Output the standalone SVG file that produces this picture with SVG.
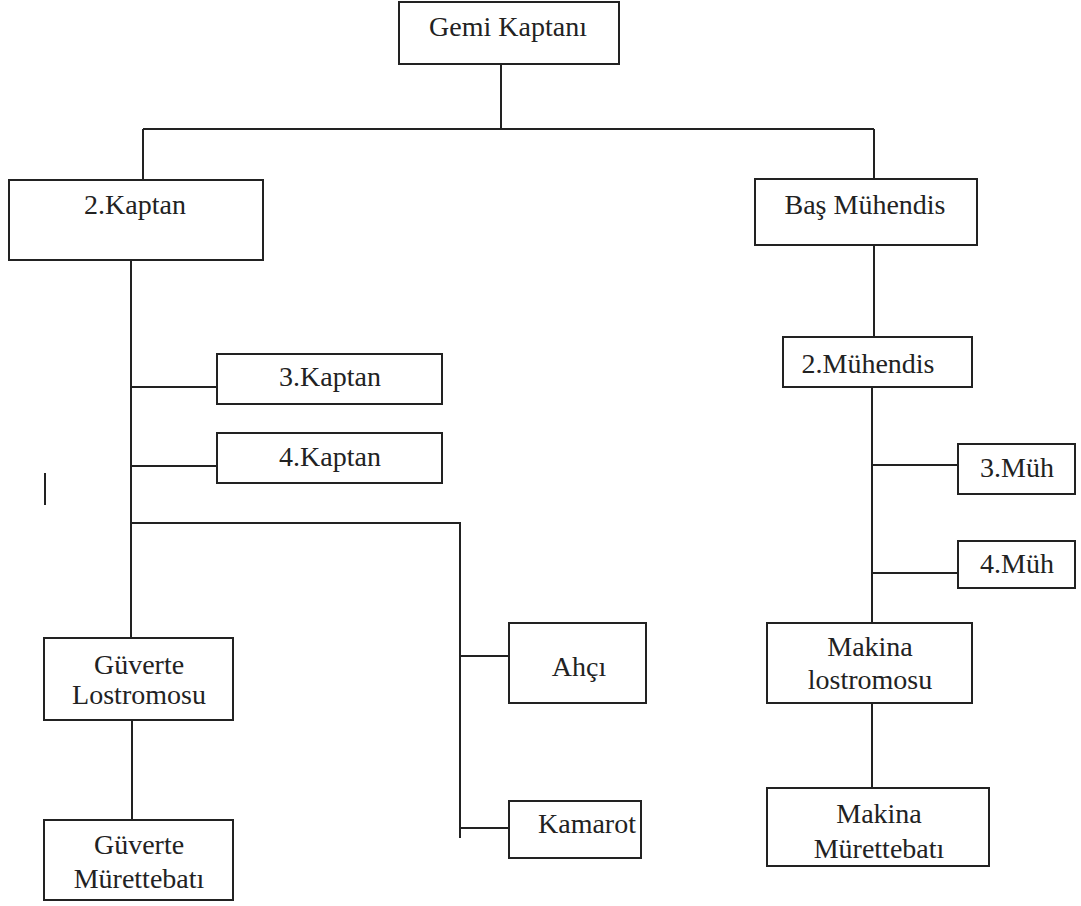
<svg xmlns="http://www.w3.org/2000/svg" width="1081" height="906" viewBox="0 0 1081 906">
<style>
.box{fill:#fff;stroke:#222;stroke-width:2}
.ln{fill:none;stroke:#222;stroke-width:2}
text{font-family:"Liberation Serif","Times New Roman",serif;font-size:28px;fill:#222;text-anchor:middle}
</style>
<rect width="1081" height="906" fill="#fff"/>
<g id="connectors">
<path class="ln" d="M501 64V129M143 129H874M143 129V180M874 129V179"/>
<path class="ln" d="M131 260V638M131 387H217M131 466H217M131 523H460V838M460 656H509M460 828H509"/>
<path class="ln" d="M132 720V820"/>
<path class="ln" d="M874 245V337M872 387V623M872 465H958M872 573H958M872 703V788"/>
<path class="ln" d="M45 473V505"/>
</g>
<g id="gemi-kaptani"><rect class="box" x="399" y="2" width="220" height="62"/><text x="508" y="36">Gemi Kaptanı</text></g>
<g id="kaptan2"><rect class="box" x="9" y="180" width="254" height="80"/><text x="135" y="214">2.Kaptan</text></g>
<g id="bas-muhendis"><rect class="box" x="755" y="179" width="222" height="66"/><text x="865" y="214">Baş Mühendis</text></g>
<g id="muhendis2"><rect class="box" x="783" y="337" width="189" height="50"/><text x="868" y="373">2.Mühendis</text></g>
<g id="kaptan3"><rect class="box" x="217" y="354" width="225" height="50"/><text x="330" y="386">3.Kaptan</text></g>
<g id="kaptan4"><rect class="box" x="217" y="433" width="225" height="50"/><text x="330" y="466">4.Kaptan</text></g>
<g id="muh3"><rect class="box" x="958" y="444" width="117" height="50"/><text x="1017" y="477">3.Müh</text></g>
<g id="muh4"><rect class="box" x="958" y="541" width="117" height="47"/><text x="1017" y="573">4.Müh</text></g>
<g id="ahci"><rect class="box" x="509" y="623" width="137" height="80"/><text x="579" y="676">Ahçı</text></g>
<g id="kamarot"><rect class="box" x="509" y="801" width="132" height="57"/><text x="587" y="833">Kamarot</text></g>
<g id="guverte-lostromosu"><rect class="box" x="44" y="638" width="189" height="82"/><text x="139" y="674">Güverte</text><text x="139" y="704">Lostromosu</text></g>
<g id="guverte-murettebati"><rect class="box" x="44" y="820" width="189" height="80"/><text x="139" y="854">Güverte</text><text x="139" y="888">Mürettebatı</text></g>
<g id="makina-lostromosu"><rect class="box" x="767" y="623" width="205" height="80"/><text x="870" y="656">Makina</text><text x="870" y="689">lostromosu</text></g>
<g id="makina-murettebati"><rect class="box" x="767" y="788" width="222" height="78"/><text x="879" y="823">Makina</text><text x="879" y="858">Mürettebatı</text></g>
</svg>
